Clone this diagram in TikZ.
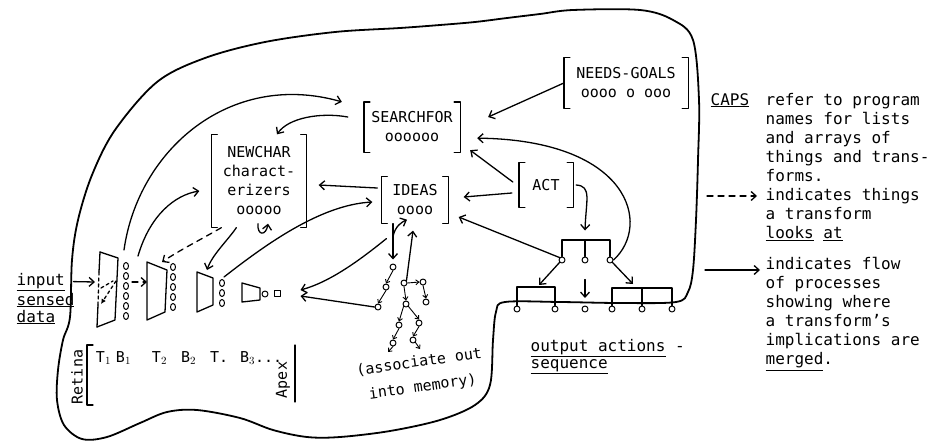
\documentclass[tikz,border=0pt]{standalone}
\usepackage{fontspec}
\setmainfont{DejaVu Sans Mono}
\usetikzlibrary{arrows.meta}

% square brackets round a list node
\newcommand\bracketbox[1]{%
  \draw ([xshift=6pt]#1.north west) -- (#1.north west) -- (#1.south west) -- ([xshift=6pt]#1.south west);
  \draw ([xshift=-6pt]#1.north east) -- (#1.north east) -- (#1.south east) -- ([xshift=-6pt]#1.south east);}

\tikzset{
  listbox/.style={inner sep=0pt, align=center},
  ring/.style={circle, draw, inner sep=0pt, minimum size=6pt, line width=1pt},
  peek/.style={->, dash pattern=on 6pt off 5pt},
  tiny/.style={-{Straight Barb[length=3pt,width=5pt]}, line width=0.9pt},
  note/.style={inner sep=0pt, align=left, font=\fontsize{16}{19}\selectfont},
}

\begin{document}
\begin{tikzpicture}[x=1pt, y=-1pt, line width=1.3pt, line cap=round, line join=round,
  >={Straight Barb[length=5pt,width=9pt]}, font=\fontsize{15}{19}\selectfont]
\useasboundingbox (0,0) rectangle (931,442);

% outline
\draw[line width=1.8pt] plot[smooth cycle, tension=0.55] coordinates {
  (70,317) (72,260) (78,220) (92,175) (115,130) (157,82) (205,58) (265,42) (335,32)
  (400,28) (440,25) (475,22) (507,18) (540,14) (573,10) (640,10) (673,20) (693,40)
  (699,100) (698,160) (696,220) (693,270) (688,292) (676,302) (620,303) (560,302)
  (505,302) (496,312) (493,340) (490,385) (475,405) (440,420) (390,431) (340,437)
  (307,437) (273,430) (240,418) (197,410) (167,412) (140,423) (107,437) (82,439)
  (64,425) (57,400) (58,370) (63,340)};

% lists
\node[listbox, minimum width=94pt, minimum height=92pt] (nc) at (259,181) {NEWCHAR\\charact-\\erizers\\ooooo};
\node[listbox, minimum width=95pt, minimum height=49pt] (sf) at (412,127) {SEARCHFOR\\oooooo};
\node[listbox, minimum width=66pt, minimum height=46pt] (id) at (415,200) {IDEAS\\oooo};
\node[listbox, minimum width=53pt, minimum height=44pt] (act) at (546,185) {ACT};
\node[listbox, minimum width=123pt, minimum height=50pt] (ng) at (626,83) {NEEDS-GOALS\\oooo o ooo};
\bracketbox{nc}
\bracketbox{sf}
\bracketbox{id}
\bracketbox{act}
\bracketbox{ng}

% retina and layers
\draw (100,252) -- (118,258) -- (115,320) -- (97,327);
\draw (100,252) -- (99,272);
\draw[dashed] (99,272) -- (98,305);
\draw (98,305) -- (97,327);
\draw (147,262) -- (167,270) -- (165,312) -- (147,320) -- cycle;
\draw (197,272) -- (213,278) -- (213,305) -- (197,312) -- cycle;
\draw (242,283) -- (260,288) -- (260,300) -- (242,302) -- cycle;
\foreach \y in {266,276,...,316} \draw[line width=1pt] (126,\y) circle[x radius=2.5, y radius=3.5];
\foreach \y in {267,277,...,307} \draw[line width=1pt] (173,\y) circle[x radius=2.5, y radius=3.5];
\foreach \y in {283,293,303} \draw[line width=1pt] (222,\y) circle[x radius=2.5, y radius=3.5];
\draw[line width=1pt] (265,294) circle[radius=3];
\node[draw, line width=1pt, minimum size=6pt, inner sep=0pt] (apexsq) at (277,293) {};

\coordinate (p1in) at (95,282);
\coordinate (p1top) at (124,250);
\coordinate (p1mid) at (138,256);
\coordinate (p2top) at (162,262);
\coordinate (p2in) at (147,282);
\coordinate (p3top) at (207,270);
\coordinate (p3col) at (224,277);

% input
\node[note, anchor=base west] (inlbl) at (16,285) {\underline{input}};
\node[note, anchor=base west] (senslbl) at (16,305) {\underline{sensed}};
\node[note, anchor=base west] (datalbl) at (16,322) {\underline{data}};
\draw[->] ([xshift=8pt]inlbl.east) -- (p1in);
\draw[dashed] (101,288) -- (113,281);
\draw[dashed, -{Latex[length=5pt,width=5pt]}] (116,281) -- (101,304);
\draw[peek] (132,282) -- (p2in);

\node[rotate=90] (retina) at (77,377) {Retina};
\draw (93,345) -- (87,345) -- (87,405) -- (93,405);
\node[anchor=base west] (trow) at (92,362) {T$_1$\hspace{5pt}B$_1$\hspace{21pt}T$_2$\hspace{14pt}B$_2$\hspace{14pt}T.\hspace{12pt}B$_3$...};
\node[rotate=90] (apex) at (283,380) {Apex};
\draw (295,345) -- (295,402);

% flows among the lists
\draw[->] (p1top) .. controls (138,150) and (230,70) .. ([xshift=-22pt]sf.north west);
\draw[->] (p1mid) .. controls (150,215) and (175,195) .. ([shift={(-12,10)}]nc.west);
\draw[peek] ([xshift=10pt]nc.south west) .. controls (200,240) and (180,250) .. (p2top);
\draw[->] ([xshift=25pt]nc.south west) .. controls (228,240) and (212,255) .. (p3top);
\draw[->] ([shift={(-16,-10)}]sf.west) .. controls (320,112) and (288,118) .. ([xshift=18pt]nc.north);
\draw[->] ([shift={(-4,-12)}]id.west) -- ([shift={(12,4)}]nc.east);
\draw[->] (p3col) .. controls (265,245) and (320,205) .. ([shift={(-9,2)}]id.west);
\draw[->] ([shift={(5,15)}]id.south west) .. controls (360,260) and (330,282) .. ([shift={(20,-3)}]apexsq.east);
\draw[->] ([shift={(-1,-4)}]nc.south) .. controls (257,236) and (266,236) .. ([shift={(9,-4)}]nc.south);
\draw[->] ([shift={(-22,13)}]id.south) .. controls (395,226) and (402,222) .. ([shift={(-8,-4)}]id.south);
\draw[->] (ng.west) -- ([shift={(28,-10)}]sf.east);
\draw[->] ([shift={(-6,-3)}]act.west) -- ([shift={(10,-2)}]sf.south east);
\draw[->] ([shift={(-7,8)}]act.west) -- ([shift={(15,-3)}]id.east);

% associate out into memory
\node[ring] (a0) at (393,267) {};
\node[ring] (a1) at (386,287) {};
\node[ring] (a2) at (378,307) {};
\node[ring] (b0) at (404,283) {};
\node[ring] (b1) at (423,282) {};
\node[ring] (b2) at (426,302) {};
\node[ring] (b3) at (406,304) {};
\node[ring] (b4) at (399,325) {};
\node[ring] (b5) at (419,323) {};
\node[ring] (b6) at (393,343) {};
\node[ring] (b7) at (413,340) {};
\coordinate (t6) at (388,352);
\coordinate (t7) at (420,349);
\draw[->] ([xshift=-22pt]id.south) -- ([yshift=4pt]a0.north);
\draw[->] (b0.north east) -- ([shift={(-2,7)}]id.south);
\draw[tiny] (a0.south) -- (a1.north);
\draw[tiny] (a1.south) -- (a2.north);
\draw[tiny] (b0.east) -- (b1.west);
\draw[tiny] (b1.south) -- (b2.north);
\draw[tiny] (b0.south) -- (b3.north);
\draw[tiny] (b3.south west) -- (b4.north);
\draw[tiny] (b3.south east) -- (b5.north);
\draw[tiny] (b4.south) -- (b6.north);
\draw[tiny] (b5.south) -- (b7.north);
\draw[tiny] (b6.south) -- (t6);
\draw[tiny] (b7.south east) -- (t7);
\draw[->] (a2.west) -- ([shift={(20,3)}]apexsq.east);
\node[rotate=8, align=center] (assoc) at (421,375) {(associate out\\[6pt]into memory)};

% output actions
\node[ring] (o1) at (562,260) {};
\node[ring] (o2) at (585,260) {};
\node[ring] (o3) at (610,260) {};
\draw (o1.north) -- (562,240) -- (610,240) -- (o3.north);
\draw (o2.north) -- (585,240);
\draw[->] ([xshift=3pt]act.east) .. controls (592,186) and (586,200) .. ([yshift=26pt]o2.north);
\draw[->] (o1.north west) -- ([shift={(10,17)}]id.east);
\draw[->] (o3.east) .. controls (652,225) and (630,140) .. ([shift={(17,-14)}]sf.south east);
\node[ring] (q1) at (517,309) {};
\node[ring] (q2) at (555,309) {};
\node[ring] (q3) at (585,309) {};
\node[ring] (q4) at (612,309) {};
\node[ring] (q5) at (642,309) {};
\node[ring] (q6) at (672,309) {};
\draw (q1.north) -- (517,287) -- (555,287) -- (q2.north);
\draw (q4.north) -- (612,288) -- (672,288) -- (q6.north);
\draw (q5.north) -- (642,288);
\coordinate (lbar) at (539,285);
\coordinate (mbar) at (585,298);
\coordinate (rbar) at (633,284);
\draw[->] (o1.south west) -- (lbar);
\draw[->] ([yshift=-16pt]o2.south) -- (mbar);
\draw[->] (o3.south east) -- (rbar);
\node[note, anchor=base west] (outlbl) at (530,351) {\underline{output actions} -};
\node[note, anchor=base west] (seqlbl) at (530,368) {\underline{sequence}};

% legend
\node[note, anchor=base west] (caps) at (710,105) {\underline{CAPS}};
\node[note, anchor=north west] (capsnote) at (765,93) {refer to program\\names for lists\\and arrays of\\things and trans-\\forms.\\indicates things\\a transform\\\underline{looks} \underline{at}};
\node[note, anchor=north west] (flownote) at (765,257) {indicates flow\\of processes\\showing where\\a transform's\\implications are\\\underline{merged}.};
\coordinate (dk) at (707,196);
\coordinate (dkend) at (757,196);
\coordinate (fl) at (705,270);
\coordinate (flend) at (760,270);
\draw[peek] (dk) -- (dkend);
\draw[->] (fl) -- (flend);
\end{tikzpicture}
\end{document}
